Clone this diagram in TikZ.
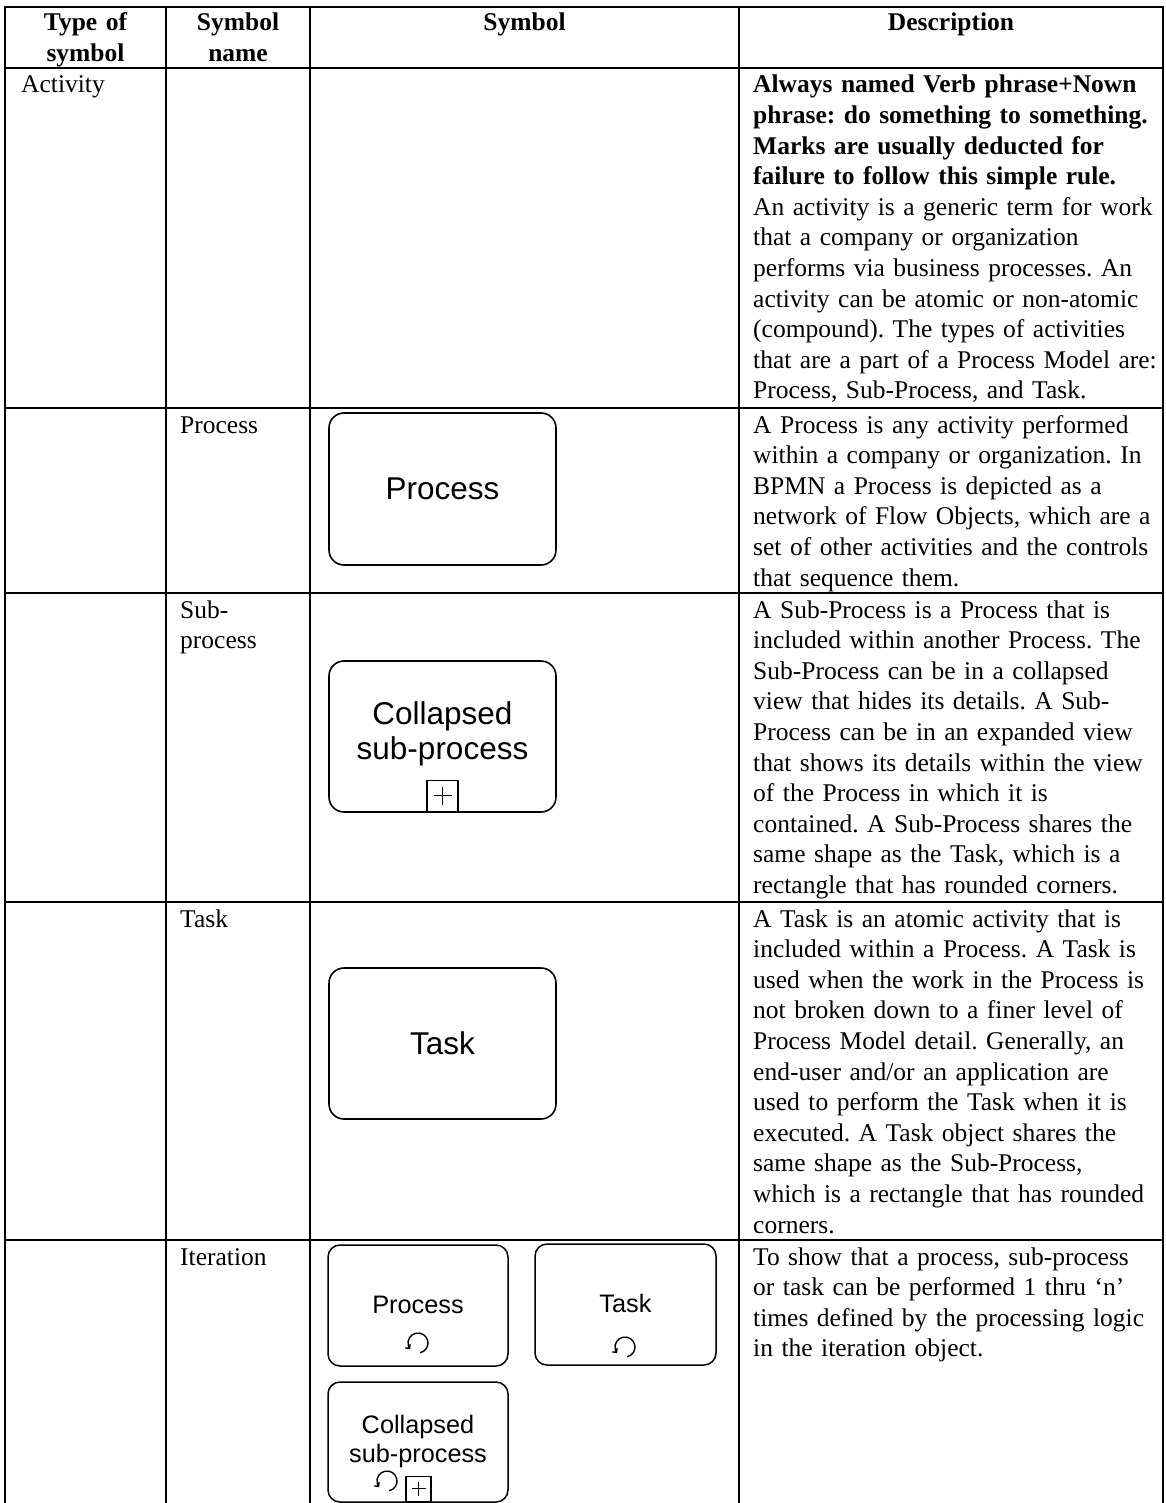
\documentclass[tikz,border=0pt]{standalone}
\usepackage{fontspec}
\setmainfont{Liberation Serif}
\newfontfamily\arialf{Liberation Sans}
\usetikzlibrary{arrows.meta}
\begin{document}
\frenchspacing
\begin{tikzpicture}[x=1pt,y=-1pt,
  grid/.style={line width=2.8pt, line cap=rect},
  cell/.style={anchor=base west, align=left, inner sep=0pt, text width=#1,
    font=\frenchspacing\fontsize{25.5}{30.6}\selectfont},
  cell/.default=440pt,
  head/.style={anchor=base, align=center, inner sep=0pt, text width=#1,
    font=\fontsize{25.5}{30.6}\selectfont\bfseries},
  head/.default=150pt,
  bigbox/.style={draw, line width=1.6pt, rounded corners=15pt, inner sep=0pt,
    minimum width=227pt, minimum height=152pt, font=\arialf\fontsize{31.5}{35}\selectfont},
  smallbox/.style={draw, line width=1.5pt, rounded corners=12pt, inner sep=0pt,
    minimum width=180pt, minimum height=121pt},
  bigtext/.style={anchor=base, align=center, inner sep=0pt, text width=220pt,
    font=\arialf\fontsize{31.5}{35}\selectfont},
  smalltext/.style={anchor=base, align=center, inner sep=0pt, text width=175pt,
    font=\arialf\fontsize{25.3}{29.5}\selectfont},
  plusbox/.style={draw, line width=1.4pt, inner sep=0pt, anchor=south},
  plusline/.style={line width=1.1pt},
  loopmark/.style={line width=1.4pt, -{Straight Barb[length=3pt,width=6pt]}}
]
\useasboundingbox (0,0) rectangle (1165,1503);

% ---------- table grid ----------
\foreach \yy in {7,68,408,593,902,1240}
  \draw[grid] (5,\yy) -- (1163,\yy);
\foreach \xx in {5,166,310,739,1163}
  \draw[grid] (\xx,7) -- (\xx,1503);

% ---------- header ----------
\node[head] (h1) at (85.5,31) {Type of\\symbol};
\node[head] (h2) at (238,31) {Symbol\\name};
\node[head=300pt] (h3) at (524.5,31) {Symbol};
\node[head=300pt] (h4) at (951,31) {Description};

% ---------- first two columns ----------
\node[cell=140pt] (t1) at (21,93) {Activity};
\node[cell=125pt] (n1) at (180,433) {Process};
\node[cell=125pt] (n2) at (180,618) {Sub-\\process};
\node[cell=125pt] (n3) at (180,927) {Task};
\node[cell=125pt] (n4) at (180,1265) {Iteration};

% ---------- descriptions ----------
\node[cell] (d1) at (753,93) {\textbf{Always named Verb phrase+Nown}\\
\textbf{phrase: do something to something.}\\
\textbf{Marks are usually deducted for}\\
\textbf{failure to follow this simple rule.}\\
An activity is a generic term for work\\
that a company or organization\\
performs via business processes. An\\
activity can be atomic or non-atomic\\
(compound). The types of activities\\
that are a part of a Process Model are:\\
Process, Sub-Process, and Task.};

\node[cell] (d2) at (753,433) {A Process is any activity performed\\
within a company or organization. In\\
BPMN a Process is depicted as a\\
network of Flow Objects, which are a\\
set of other activities and the controls\\
that sequence them.};

\node[cell] (d3) at (753,618) {A Sub-Process is a Process that is\\
included within another Process. The\\
Sub-Process can be in a collapsed\\
view that hides its details. A Sub-\\
Process can be in an expanded view\\
that shows its details within the view\\
of the Process in which it is\\
contained. A Sub-Process shares the\\
same shape as the Task, which is a\\
rectangle that has rounded corners.};

\node[cell] (d4) at (753,927) {A Task is an atomic activity that is\\
included within a Process. A Task is\\
used when the work in the Process is\\
not broken down to a finer level of\\
Process Model detail. Generally, an\\
end-user and/or an application are\\
used to perform the Task when it is\\
executed. A Task object shares the\\
same shape as the Sub-Process,\\
which is a rectangle that has rounded\\
corners.};

\node[cell] (d5) at (753,1265) {To show that a process, sub-process\\
or task can be performed 1 thru ‘n’\\
times defined by the processing logic\\
in the iteration object.};

% ---------- symbols ----------
\node[bigbox] (pbox) at (442.5,489) {Process};

\node[bigbox, minimum height=151pt] (sbox) at (442.5,736.5) {};
\node[bigtext] (stxt) at (442.5,724) {Collapsed\\sub-process};
\node[plusbox, minimum size=31pt] (splus) at (442.5,812) {};
\draw[plusline] ([xshift=-9pt]splus.center) -- ([xshift=9pt]splus.center);
\draw[plusline] ([yshift=-9pt]splus.center) -- ([yshift=9pt]splus.center);

\node[bigbox, minimum height=151pt] (tbox) at (442.5,1043.5) {Task};

% ---------- iteration symbols ----------
\node[smallbox] (ipbox) at (418,1305.5) {};
\node[smalltext] (iptxt) at (418,1313) {Process};
\coordinate (lp1) at (418,1343);
\draw[loopmark] ([shift={(-78:10pt)}]lp1) arc[start angle=-78, end angle=218, radius=10pt];

\node[smallbox, minimum width=181pt] (itbox) at (625.5,1304.5) {};
\node[smalltext] (ittxt) at (625.5,1312) {Task};
\coordinate (lp2) at (625,1347);
\draw[loopmark] ([shift={(-78:10pt)}]lp2) arc[start angle=-78, end angle=218, radius=10pt];

\node[smallbox, minimum height=120pt] (icbox) at (418,1442) {};
\node[smalltext] (ictxt) at (418,1433) {Collapsed\\sub-process};
\coordinate (lp3) at (387,1481);
\draw[loopmark] ([shift={(-78:10pt)}]lp3) arc[start angle=-78, end angle=218, radius=10pt];
\node[plusbox, minimum size=25pt] (iplus) at (418.5,1502) {};
\draw[plusline] ([xshift=-7pt]iplus.center) -- ([xshift=7pt]iplus.center);
\draw[plusline] ([yshift=-7pt]iplus.center) -- ([yshift=7pt]iplus.center);
\end{tikzpicture}
\end{document}
